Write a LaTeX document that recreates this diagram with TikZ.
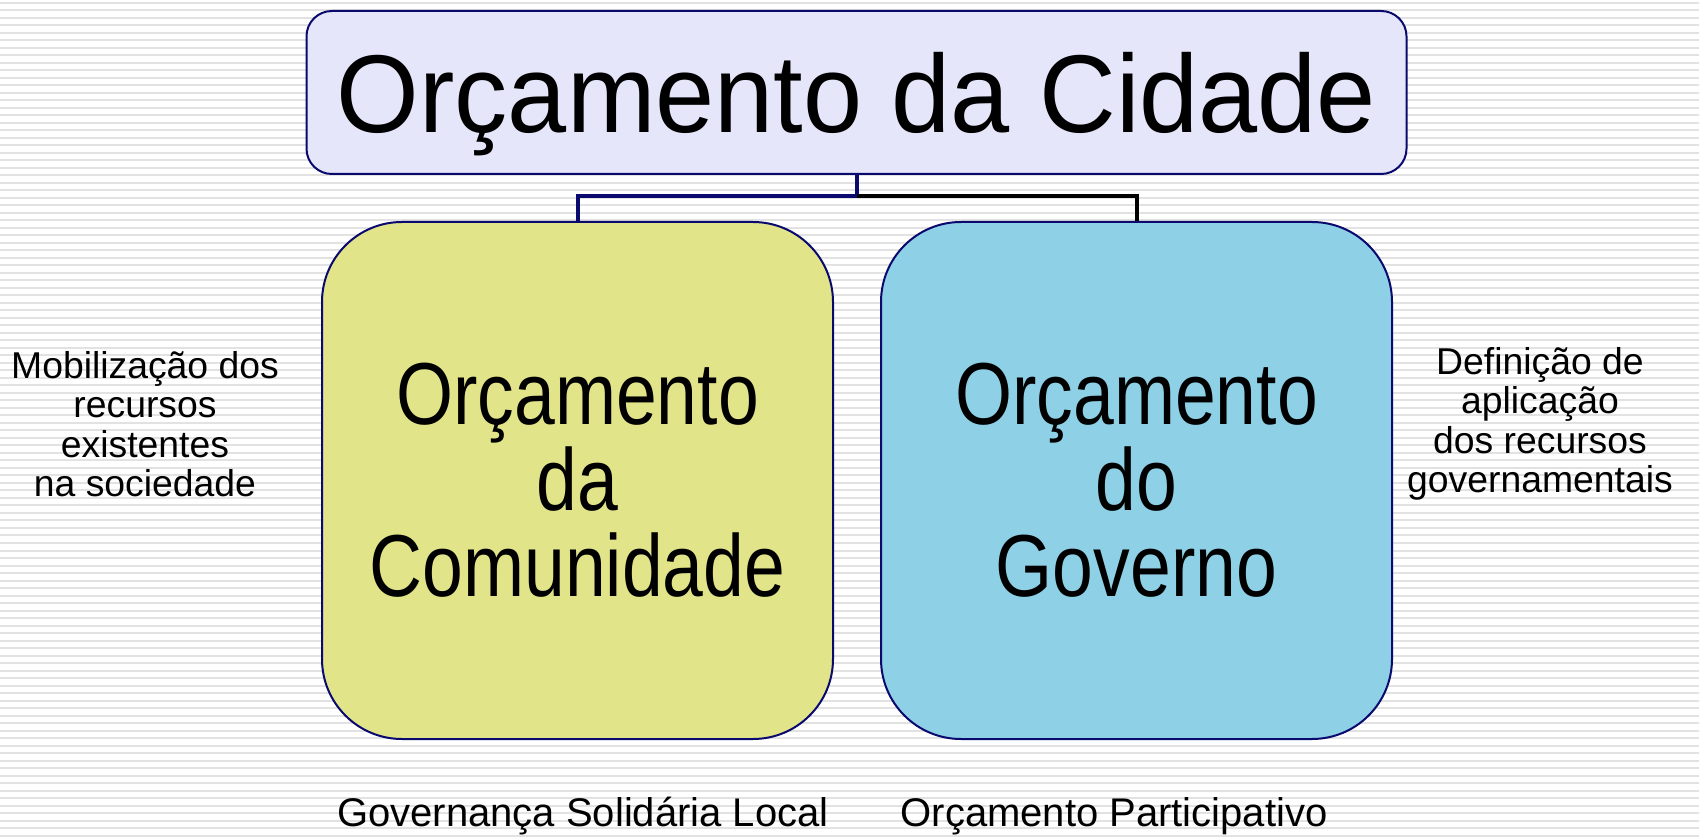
\documentclass[tikz,border=0pt]{standalone}
\usepackage{fontspec}
\setmainfont{Liberation Sans}
\newfontfamily\titlefont{Liberation Sans}[FakeStretch=0.96]
\newfontfamily\boxfont{Liberation Sans}[FakeStretch=0.833]
\definecolor{boxnavy}{HTML}{0A0A6E}
\definecolor{stripegray}{HTML}{E2E2E2}
\definecolor{cidadefill}{HTML}{E6E6FA}
\definecolor{comunidadefill}{HTML}{E2E48A}
\definecolor{governofill}{HTML}{8ED0E6}
\tikzset{
  bigbox/.style={draw=boxnavy, line width=1.5pt, rounded corners=60pt, inner sep=0pt,
    minimum width=383.25pt, minimum height=387.75pt, align=center,
    font=\boxfont\fontsize{66}{64.5}\selectfont},
  sidetext/.style={align=center, font=\fontsize{28}{29.5}\selectfont},
  foottext/.style={anchor=base, font=\fontsize{30}{36}\selectfont},
  link/.style={line width=3pt}
}
\begin{document}
\begin{tikzpicture}[x=0.75pt,y=-0.75pt]
        \useasboundingbox (0,0) rectangle (1699,837);
        \fill[white] (0,0) rectangle (1699,837);
        \foreach \y in {3,10.5,...,837}
          \draw[stripegray, line width=1.5pt] (0,\y) -- (1699,\y);
        \node (cidade) at (856.5,92.5) [draw=boxnavy, fill=cidadefill, line width=1.5pt,
          rounded corners=19pt, minimum width=825pt, minimum height=122.25pt,
          text depth=0pt, font=\titlefont\fontsize{83}{90}\selectfont] {Orçamento da Cidade};
        \node (comunidade) at (577.5,480.5) [bigbox, fill=comunidadefill] {Orçamento\\da\\Comunidade};
        \node (governo) at (1136.5,480.5) [bigbox, fill=governofill] {Orçamento\\do\\Governo};
        \coordinate (junction) at (856.5,196);
        \draw [link, boxnavy] (cidade.south) -- (junction) -| (comunidade.north);
        \draw [link, black] (junction) -| (governo.north);
        \node (mobilizacao) at (145,424) [sidetext] {Mobilização dos\\recursos\\existentes\\na sociedade};
        \node (definicao) at (1540,424) [sidetext] {Definição de\\aplicação\\dos recursos\\governamentais};
        \node (governanca) at (583,826) [foottext] {Governança Solidária Local};
        \node (participativo) at (1114,826) [foottext] {Orçamento Participativo};
    \end{tikzpicture}
\end{document}
